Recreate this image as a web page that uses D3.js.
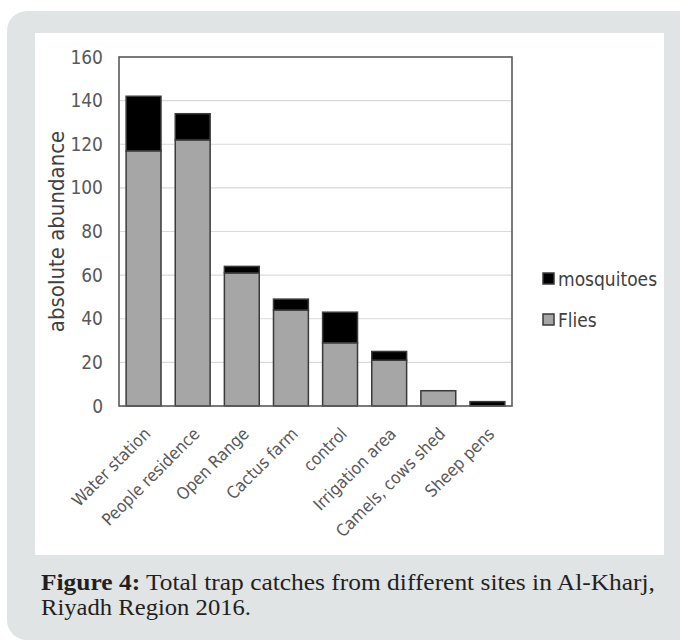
<!DOCTYPE html>
<html>
<head>
<meta charset="utf-8">
<script src="https://cdn.jsdelivr.net/npm/d3@7"></script>
<style>
  html, body { margin: 0; padding: 0; background: #ffffff; }
  svg { display: block; }
</style>
</head>
<body>
<svg id="chart" width="680" height="641"></svg>
<script>
const categories = ["Water station", "People residence", "Open Range", "Cactus farm", "control", "Irrigation area", "Camels, cows shed", "Sheep pens"];
const flies = [117, 122, 61, 44, 29, 21, 7, 0];
const mosquitoes = [25, 12, 3, 5, 14, 4, 0, 2];
const yTicks = [0, 20, 40, 60, 80, 100, 120, 140, 160];
const seriesNames = ["mosquitoes", "Flies"];
const captionBold = "Figure 4:";
const captionRest = " Total trap catches from different sites in Al-Kharj,";
const captionLine2 = "Riyadh Region 2016.";

const sansFont = "'Liberation Sans Narrow', 'DejaVu Sans Condensed', 'Liberation Sans', sans-serif";
const serifFont = "'Liberation Serif', 'DejaVu Serif', serif";

const svg = d3.select("#chart");

// panels
svg.append("rect").attr("x", 7).attr("y", 11).attr("width", 700).attr("height", 629)
  .attr("rx", 20).attr("fill", "#e1e4e5");
svg.append("rect").attr("x", 35).attr("y", 33).attr("width", 629).attr("height", 522)
  .attr("fill", "#ffffff");

const plot = { left: 119, right: 512, top: 57, bottom: 406 };

const x = d3.scaleBand().domain(categories).range([plot.left, plot.right])
  .paddingInner(0.29).paddingOuter(0.145);
const y = d3.scaleLinear().domain([0, 160]).range([plot.bottom, plot.top]);

// gridlines
svg.append("g").selectAll("line").data(yTicks.filter(t => t > 0 && t < 160)).join("line")
  .attr("x1", plot.left).attr("x2", plot.right)
  .attr("y1", d => y(d)).attr("y2", d => y(d))
  .attr("stroke", "#d9d9d9").attr("stroke-width", 1.2);

// y axis tick labels
const yAxis = d3.axisLeft(y).tickValues(yTicks).tickSize(0).tickPadding(16);
const yg = svg.append("g").attr("transform", `translate(${plot.left},0)`).call(yAxis);
yg.select(".domain").remove();
yg.selectAll("text").attr("font-family", sansFont).attr("font-size", 19)
  .attr("fill", "#595959");

// stacked data
const data = categories.map((c, i) => ({ cat: c, Flies: flies[i], mosquitoes: mosquitoes[i] }));
const stack = d3.stack().keys(["Flies", "mosquitoes"]);
const stacked = stack(data);
const fills = { Flies: "#a6a6a6", mosquitoes: "#000000" };

svg.append("g").selectAll("g").data(stacked).join("g")
  .attr("fill", d => fills[d.key])
  .selectAll("rect").data(d => d.filter(p => p[1] - p[0] > 0)).join("rect")
  .attr("x", d => x(d.data.cat))
  .attr("width", x.bandwidth())
  .attr("y", d => y(d[1]))
  .attr("height", d => y(d[0]) - y(d[1]))
  .attr("stroke", "#3a3a3a").attr("stroke-width", 1.5);

// frame
svg.append("rect").attr("x", plot.left).attr("y", plot.top)
  .attr("width", plot.right - plot.left).attr("height", plot.bottom - plot.top)
  .attr("fill", "none").attr("stroke", "#595959").attr("stroke-width", 1.6);

// x labels
const xAxis = d3.axisBottom(x).tickSize(0);
const xg = svg.append("g").attr("transform", `translate(0,${plot.bottom})`).call(xAxis);
xg.select(".domain").remove();
xg.selectAll("text")
  .attr("font-family", sansFont).attr("font-size", 17).attr("fill", "#595959")
  .attr("text-anchor", "end")
  .attr("dy", null).attr("y", null)
  .attr("transform", "translate(8,29) rotate(-45)");

// y title
svg.append("text")
  .attr("transform", `translate(64,${(plot.top + plot.bottom) / 2}) rotate(-90)`)
  .attr("text-anchor", "middle")
  .attr("font-family", sansFont).attr("font-size", 22).attr("fill", "#404040")
  .text("absolute abundance");

// legend
const legendY = [279, 320];
const lg = svg.append("g").selectAll("g").data(seriesNames).join("g")
  .attr("transform", (d, i) => `translate(543,${legendY[i]})`);
lg.append("rect").attr("x", 0).attr("y", -6).attr("width", 11).attr("height", 11)
  .attr("fill", d => fills[d]).attr("stroke", "#3a3a3a").attr("stroke-width", 1.5);
lg.append("text").attr("x", 15).attr("dy", "0.35em")
  .attr("font-family", sansFont).attr("font-size", 19).attr("fill", "#404040")
  .text(d => d);

// caption
const cap = svg.append("text").attr("x", 41).attr("y", 590)
  .attr("font-family", serifFont).attr("font-size", 23).attr("fill", "#231f20")
  .attr("textLength", 614).attr("lengthAdjust", "spacingAndGlyphs");
cap.append("tspan").attr("font-weight", "bold").text(captionBold);
cap.append("tspan").text(captionRest);
svg.append("text").attr("x", 41).attr("y", 615)
  .attr("font-family", serifFont).attr("font-size", 23).attr("fill", "#231f20")
  .attr("textLength", 210).attr("lengthAdjust", "spacingAndGlyphs")
  .text(captionLine2);
</script>
</body>
</html>
